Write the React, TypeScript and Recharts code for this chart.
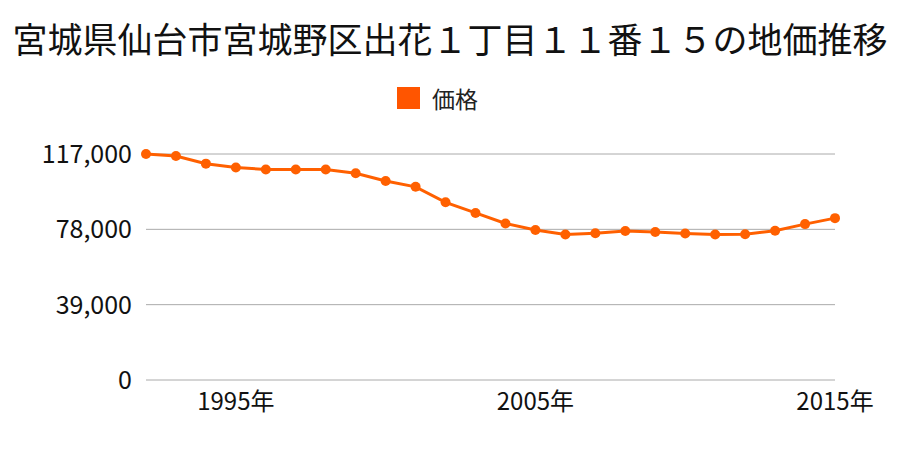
import React from 'react';
import { LineChart, Line, XAxis, YAxis, CartesianGrid, Legend } from 'recharts';

const years = [
  1992, 1993, 1994, 1995, 1996, 1997, 1998, 1999, 2000, 2001, 2002, 2003,
  2004, 2005, 2006, 2007, 2008, 2009, 2010, 2011, 2012, 2013, 2014, 2015,
];
const prices = [
  117000, 116000, 112000, 110000, 109000, 109000, 109000, 107000, 103000, 100000, 92000, 86500,
  81000, 77700, 75300, 76000, 77100, 76600, 75800, 75300, 75500, 77300, 80700, 83800,
];
const yTicks = [0, 39000, 78000, 117000];
const xTicks = [1995, 2005, 2015];

const FONT = '"Noto Sans CJK JP", "Noto Sans", sans-serif';
const ORANGE = '#ff6000';

const data = years.map((y, i) => ({ year: y, price: prices[i] }));

const renderLegend = () => (
  <div style={{ display: 'flex', alignItems: 'center', paddingLeft: 397, fontFamily: FONT }}>
    <span style={{ width: 23, height: 22, background: '#ff5500', display: 'inline-block', marginRight: 12 }} />
    <span style={{ fontSize: 23, lineHeight: '22px', color: '#222' }}>価格</span>
  </div>
);

export default function App() {
  return (
    <div style={{ position: 'absolute', left: 0, top: 0, width: 900, height: 450, background: '#fff', fontFamily: FONT }}>
      <div
        style={{
          position: 'absolute', left: 0, top: 17, width: 900, textAlign: 'center',
          fontSize: 35, lineHeight: '42px', color: '#111', whiteSpace: 'nowrap',
        }}
      >
        宮城県仙台市宮城野区出花１丁目１１番１５の地価推移
      </div>
      <LineChart width={900} height={450} data={data} margin={{ top: 154, right: 65, bottom: 30, left: 0 }}>
        <CartesianGrid horizontal vertical={false} stroke="#aaaaaa" strokeWidth={1} />
        <XAxis
          dataKey="year"
          type="number"
          domain={[1992, 2015]}
          ticks={xTicks}
          tickFormatter={(v: number) => `${v}年`}
          axisLine={false}
          tickLine={false}
          tickSize={0}
          tickMargin={13}
          height={40}
          tick={{ fontSize: 24, fill: '#111', fontFamily: FONT }}
        />
        <YAxis
          type="number"
          domain={[0, 117000]}
          ticks={yTicks}
          tickFormatter={(v: number) => v.toLocaleString('en-US')}
          axisLine={false}
          tickLine={false}
          tickSize={0}
          tickMargin={14}
          width={146}
          tick={{ fontSize: 25, fill: '#111', fontFamily: FONT }}
        />
        <Legend
          verticalAlign="middle"
          align="center"
          content={renderLegend}
          wrapperStyle={{ top: 87, left: 0, width: 900, height: 22 }}
        />
        <Line
          type="linear"
          dataKey="price"
          name="価格"
          stroke={ORANGE}
          strokeWidth={3}
          dot={{ r: 5, fill: ORANGE, stroke: ORANGE, strokeWidth: 0 }}
          activeDot={false}
          isAnimationActive={false}
        />
      </LineChart>
    </div>
  );
}
